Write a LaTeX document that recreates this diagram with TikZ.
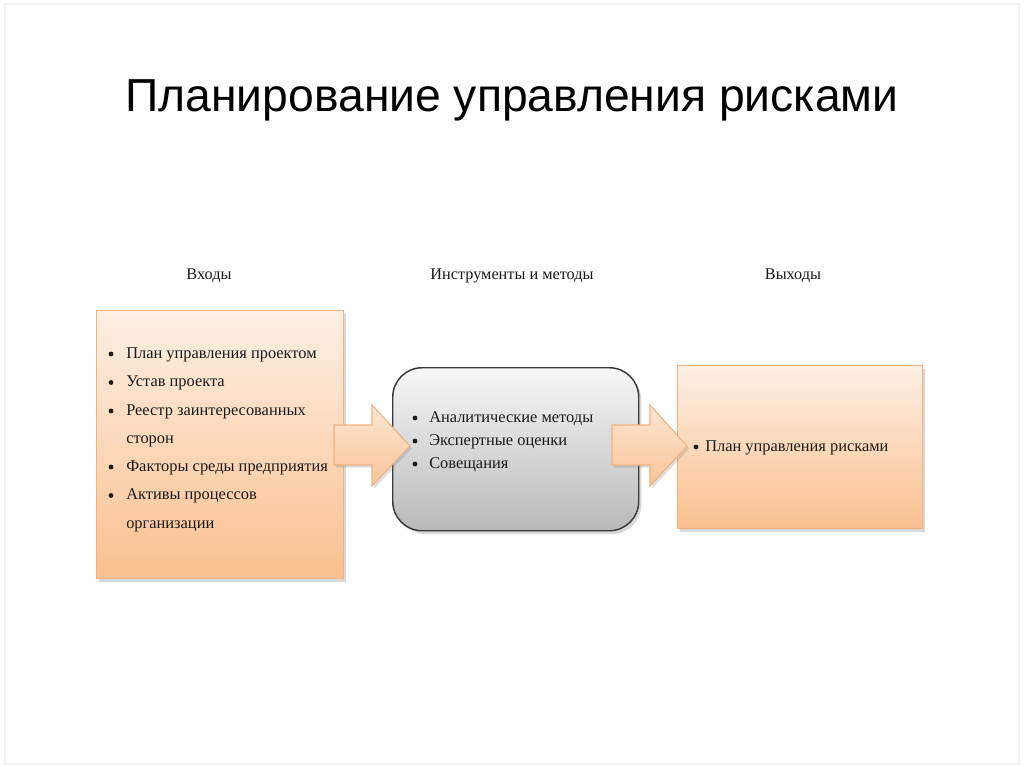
\documentclass[tikz,border=0pt]{standalone}
\usepackage{fontspec}
\setmainfont{Liberation Serif}
\newfontfamily\titlefont{Liberation Sans}
\usetikzlibrary{shadows}
\definecolor{peachtop}{HTML}{FEF0E4}
\definecolor{peachbot}{HTML}{FAC08F}
\definecolor{peachline}{HTML}{EFB383}
\definecolor{arrtop}{HTML}{FDE7D3}
\definecolor{arrbot}{HTML}{F9C597}
\definecolor{graytop}{HTML}{F7F7F7}
\definecolor{graybot}{HTML}{B9B9B9}
\definecolor{grayline}{HTML}{3A3A3A}
\definecolor{txt}{HTML}{1A1A1A}
\tikzset{
  peachbox/.style={draw=peachline, line width=0.8pt, top color=peachtop, bottom color=peachbot,
    drop shadow={shadow xshift=2pt, shadow yshift=-2.5pt, opacity=0.3}, anchor=north west, inner sep=0pt},
  graybox/.style={draw=grayline, line width=1.1pt, top color=graytop, bottom color=graybot, rounded corners=22pt,
    drop shadow={shadow xshift=2pt, shadow yshift=-2.5pt, opacity=0.3}, anchor=north west, inner sep=0pt},
  blockarrow/.style={draw=peachline, line width=0.8pt, top color=arrtop, bottom color=arrbot,
    drop shadow={shadow xshift=1.5pt, shadow yshift=-2pt, opacity=0.25}},
  head/.style={font=\fontsize{12.2pt}{14pt}\selectfont, text=txt, anchor=base, inner sep=0pt},
  item/.style={font=\fontsize{12.3pt}{14pt}\selectfont, text=txt, anchor=base west, inner sep=0pt},
  bul/.style={circle, fill=txt, inner sep=0pt, minimum size=3.6pt},
}
\begin{document}
\begin{tikzpicture}[x=0.75pt,y=-0.75pt]
\useasboundingbox (0,0) rectangle (1024,767);
\draw[black!4, line width=0.8pt] (5,4) rectangle (1019,764);

\node[font=\titlefont\fontsize{34.7pt}{40pt}\selectfont, anchor=base, inner sep=0pt] (title) at (512,112) {Планирование управления рисками};

\node[head] (hin) at (209,279) {Входы};
\node[head] (htools) at (512,279) {Инструменты и методы};
\node[head] (hout) at (793,279) {Выходы};

\node[peachbox, minimum width=185.25pt, minimum height=201pt] (in) at (96,310) {};
\node[graybox, minimum width=184.5pt, minimum height=122.25pt] (tools) at (392,367) {};
\node[peachbox, minimum width=183.75pt, minimum height=122.25pt] (out) at (677,365) {};

\draw[blockarrow] (334,425) -- (372,425) -- (372,405) -- (410,446) -- (372,486) -- (372,465) -- (334,465) -- cycle;
\draw[blockarrow] (612,425) -- (650,425) -- (650,405) -- (687,446) -- (650,486) -- (650,465) -- (612,465) -- cycle;

\node[bul] (b1) at (111,354) {};
\node[item] (i1) at (126,358) {План управления проектом};
\node[bul] (b2) at (111,382.5) {};
\node[item] (i2) at (126,386.5) {Устав проекта};
\node[bul] (b3) at (111,411) {};
\node[item] (i3) at (126,415) {Реестр заинтересованных};
\node[item] (i3b) at (126,443) {сторон};
\node[bul] (b4) at (111,467) {};
\node[item] (i4) at (126,471) {Факторы среды предприятия};
\node[bul] (b5) at (111,495.5) {};
\node[item] (i5) at (126,499.5) {Активы процессов};
\node[item] (i5b) at (126,528) {организации};

\node[bul] (t1b) at (415,418) {};
\node[item] (t1) at (429,422) {Аналитические методы};
\node[bul] (t2b) at (415,441) {};
\node[item] (t2) at (429,445) {Экспертные оценки};
\node[bul] (t3b) at (415,464) {};
\node[item] (t3) at (429,468) {Совещания};

\node[bul] (o1b) at (696,447) {};
\node[item] (o1) at (705,451) {План управления рисками};
\end{tikzpicture}
\end{document}
